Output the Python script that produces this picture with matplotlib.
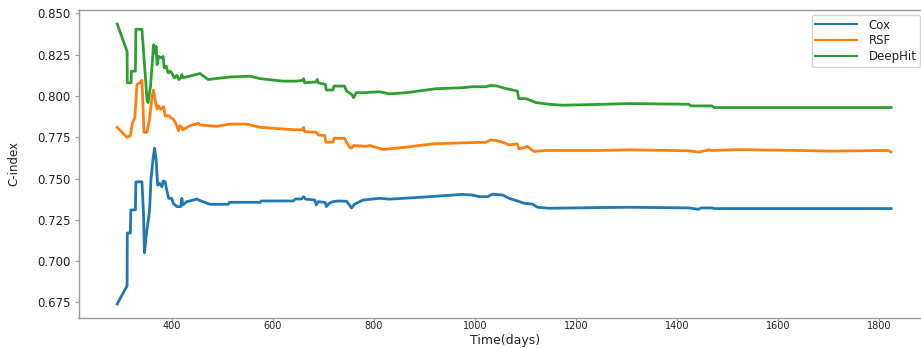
import matplotlib
matplotlib.use("Agg")
import matplotlib.pyplot as plt
from matplotlib.ticker import FormatStrFormatter

# ---- data ----
cox_days = [292, 311.6, 312, 318, 319, 328, 329, 341, 344, 346, 350, 356, 359, 363, 366, 369,
            372, 376, 380.6, 383, 387, 390, 394, 400, 403, 410, 418, 420, 422, 430, 450, 456,
            476, 512, 514, 575, 577, 640, 645, 657, 661, 665, 683, 686, 690, 704, 706, 712,
            719, 729, 746, 756, 762, 779, 812, 831, 857, 910, 976, 995, 1009, 1025, 1035,
            1055, 1068, 1088, 1098, 1114, 1124, 1147, 1246, 1305, 1423, 1443, 1448, 1469,
            1474, 1824]
cox_vals = [0.674, 0.685, 0.717, 0.717, 0.731, 0.731, 0.748, 0.748, 0.729, 0.705, 0.717, 0.7305,
            0.750, 0.762, 0.7684, 0.762, 0.746, 0.747, 0.745, 0.7485, 0.748, 0.743, 0.738, 0.738,
            0.735, 0.733, 0.733, 0.738, 0.734, 0.736, 0.7376, 0.7366, 0.7344, 0.7344, 0.7356,
            0.7356, 0.7364, 0.7364, 0.7376, 0.7376, 0.739, 0.7375, 0.737, 0.734, 0.736, 0.7355,
            0.733, 0.735, 0.736, 0.7364, 0.7362, 0.7322, 0.7345, 0.737, 0.738, 0.7375, 0.738,
            0.739, 0.7404, 0.740, 0.739, 0.739, 0.7405, 0.740, 0.738, 0.736, 0.735, 0.7345,
            0.7326, 0.732, 0.7324, 0.7326, 0.7322, 0.7314, 0.7322, 0.7322, 0.7318, 0.7318]

rsf_days = [292, 311.6, 318, 321.5, 327, 331, 337, 341, 345, 351, 356, 361, 364, 366, 371, 374,
            378, 384, 387, 395, 397, 403, 407, 413.5, 416, 420, 422, 436, 453, 456, 489, 515,
            548, 575, 640, 660, 661, 663, 686, 690, 703, 705, 719, 721, 742, 746, 752, 756,
            760, 785, 792, 818, 864, 917, 975, 1022, 1032, 1050, 1068, 1084, 1087, 1098, 1104,
            1117, 1140, 1246, 1305, 1423, 1443, 1463, 1468, 1522, 1640, 1706, 1818, 1824]
rsf_vals = [0.781, 0.775, 0.776, 0.783, 0.787, 0.807, 0.808, 0.8095, 0.778, 0.778, 0.786, 0.800,
            0.8035, 0.799, 0.792, 0.794, 0.792, 0.7935, 0.788, 0.788, 0.787, 0.786, 0.784, 0.779,
            0.782, 0.781, 0.7795, 0.782, 0.7835, 0.7825, 0.7816, 0.783, 0.783, 0.781, 0.7796,
            0.7795, 0.781, 0.7784, 0.778, 0.7764, 0.776, 0.772, 0.772, 0.7744, 0.7744, 0.772,
            0.769, 0.7684, 0.770, 0.7695, 0.770, 0.7676, 0.769, 0.771, 0.7716, 0.772, 0.7735,
            0.7725, 0.7704, 0.771, 0.768, 0.7688, 0.7695, 0.7664, 0.767, 0.767, 0.7674, 0.7668,
            0.766, 0.7674, 0.767, 0.7675, 0.767, 0.7666, 0.767, 0.766]

deephit_days = [292, 311.6, 312, 319.5, 320, 328, 329, 341, 351, 353, 358, 364, 367, 369, 371,
                374, 380, 383, 385, 389, 393, 397, 400, 405, 410, 414, 418, 420, 422, 436, 456,
                472, 515, 555, 575, 620, 647, 660, 661, 663, 686, 688, 690, 704, 706, 719, 721,
                742, 746, 756, 760, 765, 785, 792, 812, 831, 864, 923, 975, 995, 1022, 1032,
                1044, 1061, 1084, 1087, 1101, 1121, 1147, 1173, 1232, 1305, 1423, 1428, 1469,
                1474, 1824]
deephit_vals = [0.8436, 0.827, 0.808, 0.808, 0.815, 0.815, 0.8404, 0.8404, 0.798, 0.796, 0.806,
                0.831, 0.826, 0.830, 0.819, 0.824, 0.823, 0.824, 0.817, 0.818, 0.814, 0.815,
                0.814, 0.811, 0.8125, 0.810, 0.811, 0.813, 0.811, 0.812, 0.8136, 0.810, 0.8115,
                0.812, 0.8105, 0.809, 0.809, 0.8095, 0.8105, 0.808, 0.8085, 0.810, 0.808, 0.807,
                0.8036, 0.8036, 0.806, 0.806, 0.803, 0.801, 0.799, 0.802, 0.802, 0.8023, 0.8025,
                0.8013, 0.802, 0.8044, 0.805, 0.8056, 0.8056, 0.8064, 0.806, 0.8045, 0.803,
                0.7984, 0.7984, 0.796, 0.795, 0.7944, 0.7948, 0.7954, 0.795, 0.794, 0.794,
                0.793, 0.793]

series_names = ["Cox", "RSF", "DeepHit"]
x_ticks = [400, 600, 800, 1000, 1200, 1400, 1600, 1800]
y_ticks = [0.675, 0.700, 0.725, 0.750, 0.775, 0.800, 0.825, 0.850]

# ---- figure ----
W, H = 921, 348
fig = plt.figure(figsize=(W / 100, H / 100), dpi=100)
ax = fig.add_axes([78.5 / W, 30 / H, 851.3 / W, 308 / H])

colors = ["#1f77b4", "#ff7f0e", "#2ca02c"]
for d, v, name, c in zip([cox_days, rsf_days, deephit_days],
                         [cox_vals, rsf_vals, deephit_vals], series_names, colors):
    ax.plot(d, v, color=c, lw=2.0, label=name)

ax.set_xticks(x_ticks)
ax.set_yticks(y_ticks)
ax.yaxis.set_major_formatter(FormatStrFormatter("%.3f"))

spine_c = "#9a9a9a"
for s in ["left", "bottom", "top"]:
    ax.spines[s].set_color(spine_c)
    ax.spines[s].set_linewidth(1.0)
ax.spines["right"].set_visible(False)
ax.tick_params(axis="y", colors=spine_c, labelcolor="#222222", length=3, width=0.8,
               labelsize=8.5, pad=2.5)
ax.tick_params(axis="x", colors=spine_c, labelcolor="#222222", length=2, width=0.8,
               labelsize=7, pad=0.3)

ax.set_xlabel("Time(days)", fontsize=9, color="#222222", va="bottom")
ax.xaxis.set_label_coords(505 / W, 1 / H, transform=fig.transFigure)
ax.set_ylabel("C-index", fontsize=8.5, color="#222222")
ax.yaxis.set_label_coords(-0.068, 0.5)

leg = ax.legend(loc="upper right", bbox_to_anchor=(920 / W, (H - 15) / H),
                bbox_transform=fig.transFigure, borderaxespad=0, fontsize=8.5,
                handlelength=3.5, labelspacing=0.25, borderpad=0.3, handletextpad=1.0)
for line in leg.get_lines():
    line.set_linewidth(1.5)
for t in leg.get_texts():
    t.set_color("#222222")

fig.savefig("out.png", dpi=100)
